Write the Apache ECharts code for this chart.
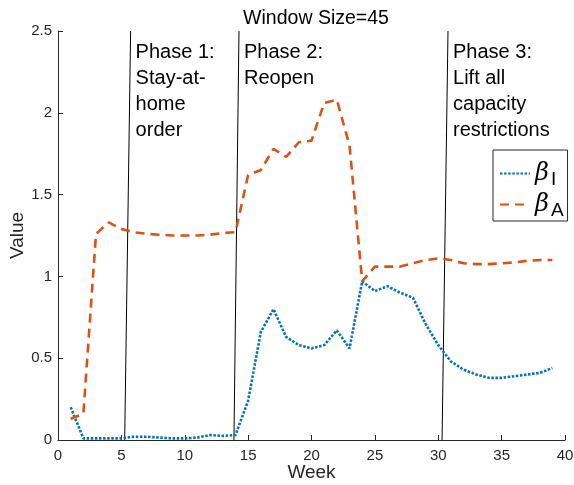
<!DOCTYPE html>
<html><head><meta charset="utf-8">
<script src="https://cdn.jsdelivr.net/npm/echarts@6/dist/echarts.min.js"></script>
<style>html,body{margin:0;padding:0;background:#fff}#c{width:574px;height:485px}</style>
</head><body><div id="c"></div>
<script>
var weeks = [1,2,3,4,5,6,7,8,9,10,11,12,13,14,15,16,17,18,19,20,21,22,23,24,25,26,27,28,29,30,31,32,33,34,35,36,37,38,39];
var betaI = [0.20,0.01,0.01,0.01,0.01,0.02,0.02,0.015,0.01,0.01,0.015,0.03,0.025,0.03,0.24,0.66,0.80,0.63,0.58,0.56,0.58,0.67,0.56,0.97,0.91,0.94,0.90,0.87,0.71,0.58,0.48,0.43,0.40,0.38,0.38,0.39,0.40,0.41,0.44];
var betaA = [0.13,0.16,1.26,1.33,1.29,1.27,1.26,1.255,1.25,1.25,1.25,1.255,1.265,1.27,1.62,1.65,1.78,1.73,1.82,1.83,2.06,2.08,1.80,0.97,1.06,1.06,1.06,1.08,1.10,1.11,1.10,1.08,1.075,1.075,1.08,1.085,1.095,1.10,1.10];
var phaseNames = ['Phase 1:\nStay-at-\nhome\norder','Phase 2:\nReopen','Phase 3:\nLift all\ncapacity\nrestrictions'];
var phaseBottomX = [5.26,13.88,30.3];
var phaseTopX = [5.73,14.28,30.77];
var yTop = 2.5;
var xTicks = [0,5,10,15,20,25,30,35,40];
var yTicks = [0,0.5,1,1.5,2,2.5];

var font = '"Liberation Sans", Arial, Helvetica, sans-serif';
var axisColor = '#262626';
var series = [
  {name:'bI', type:'line', data: weeks.map(function(w,i){return [w,betaI[i]];}), symbol:'none',
   lineStyle:{color:'#0072BD', width:2.6, type:[2.5,1.6], cap:'butt'}, itemStyle:{color:'#0072BD'}, z:3},
  {name:'bA', type:'line', data: weeks.map(function(w,i){return [w,betaA[i]];}), symbol:'none',
   lineStyle:{color:'#D95319', width:2.6, type:[9,6], cap:'butt'}, itemStyle:{color:'#D95319'}, z:3}
];
phaseNames.forEach(function(n,i){
  series.push({name:'phase'+i, type:'line', symbol:'circle', symbolSize:0.01, showSymbol:true, silent:true, z:2,
    lineStyle:{color:'#000', width:1}, itemStyle:{color:'#000'},
    data:[[phaseBottomX[i],0],{value:[phaseTopX[i],yTop], label:{show:true, formatter:n, position:[5,8], align:'left', verticalAlign:'top', fontSize:20, lineHeight:26, color:'#000', fontFamily:font}}]
  });
});
var chart = echarts.init(document.getElementById('c'));
chart.setOption({
  animation:false,
  title:{text:'Window Size=45', left:311, textAlign:'center', top:4, textStyle:{fontSize:19.5, fontWeight:'normal', color:'#000', fontFamily:font}},
  grid:{left:58, right:9, top:31, bottom:45, outerBoundsMode:'none', containLabel:false},
  xAxis:{type:'value', min:0, max:40, interval:5, name:'Week', nameLocation:'middle', nameGap:23, nameMoveOverlap:false,
    nameTextStyle:{fontSize:19, color:axisColor, fontFamily:font, verticalAlign:'top'},
    axisLine:{onZero:false, lineStyle:{color:axisColor}}, axisTick:{inside:true, length:5, lineStyle:{color:axisColor}},
    axisLabel:{fontSize:15, color:axisColor, fontFamily:font, margin:8, formatter:function(v){return xTicks.indexOf(v)>=0?String(v):'';}}, splitLine:{show:false}},
  yAxis:{type:'value', min:0, max:2.5, interval:0.5, name:'Value', nameLocation:'middle', nameGap:31, nameMoveOverlap:false,
    nameTextStyle:{fontSize:19, color:axisColor, fontFamily:font},
    axisLine:{show:true, onZero:false, lineStyle:{color:axisColor}}, axisTick:{show:true, inside:true, length:5, lineStyle:{color:axisColor}},
    axisLabel:{fontSize:15, color:axisColor, fontFamily:font, margin:6, formatter:function(v){return yTicks.indexOf(v)>=0?String(v):'';}}, splitLine:{show:false}},
  legend:{data:['bI','bA'], orient:'vertical', left:493, top:150, width:73, padding:[8,4,1,6], itemGap:0,
    borderColor:'#262626', borderWidth:1, itemWidth:30, itemHeight:14, backgroundColor:'#fff',
    itemStyle:{opacity:0},
    formatter:function(n){return n==='bI'?'{b|β}{s|I}':'{b|β}{s|A}';},
    textStyle:{rich:{b:{fontFamily:'"DejaVu Serif", serif', fontStyle:'italic', fontSize:24, color:'#000', lineHeight:27},
                     s:{fontFamily:font, fontSize:19, color:'#000', padding:[12,0,0,2], lineHeight:15}}}},
  series: series
});
</script></body></html>
